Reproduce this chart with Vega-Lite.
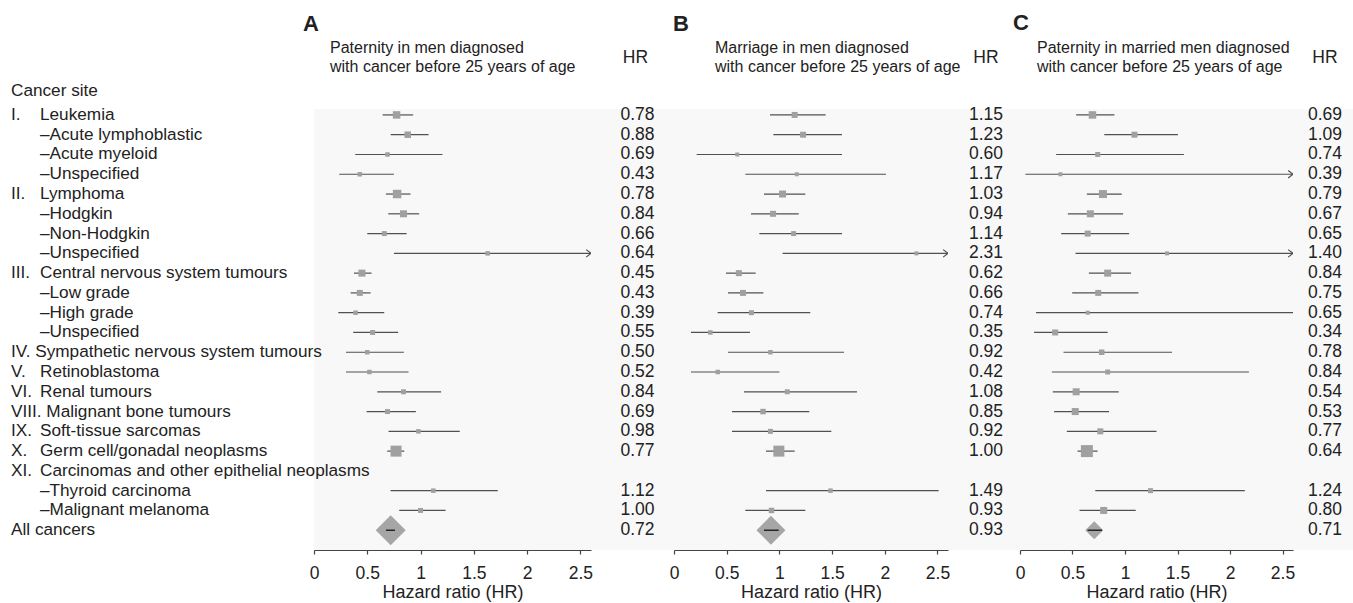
{
  "$schema": "https://vega.github.io/schema/vega-lite/v6.json",
  "padding": {"left": 11, "top": 11, "right": 0, "bottom": 0},
  "bounds": "flush",
  "spacing": 0,
  "config": {
    "font": "Liberation Sans",
    "view": {"stroke": null},
    "text": {"font": "Liberation Sans", "fontSize": 17.2, "color": "#222222"},
    "axis": {
      "domainColor": "#444444", "domainWidth": 1.2, "tickColor": "#444444", "tickWidth": 1.2, "tickSize": 4,
      "labelFont": "Liberation Sans", "labelFontSize": 17.5, "labelColor": "#222222", "labelPadding": 10,
      "labelFlush": false, "labelOverlap": false,
      "titleFont": "Liberation Sans", "titleFontSize": 18, "titleFontWeight": "normal", "titleColor": "#222222", "titlePadding": 2,
      "grid": false
    }
  },
  "datasets": {
    "labels": [
      {"row": 1, "num": "I.", "name": "Leukemia"},
      {"row": 2, "num": "", "name": "–Acute lymphoblastic"},
      {"row": 3, "num": "", "name": "–Acute myeloid"},
      {"row": 4, "num": "", "name": "–Unspecified"},
      {"row": 5, "num": "II.", "name": "Lymphoma"},
      {"row": 6, "num": "", "name": "–Hodgkin"},
      {"row": 7, "num": "", "name": "–Non-Hodgkin"},
      {"row": 8, "num": "", "name": "–Unspecified"},
      {"row": 9, "num": "III.", "name": "Central nervous system tumours"},
      {"row": 10, "num": "", "name": "–Low grade"},
      {"row": 11, "num": "", "name": "–High grade"},
      {"row": 12, "num": "", "name": "–Unspecified"},
      {"row": 13, "num": "IV. Sympathetic nervous system tumours", "name": ""},
      {"row": 14, "num": "V.", "name": "Retinoblastoma"},
      {"row": 15, "num": "VI.", "name": "Renal tumours"},
      {"row": 16, "num": "VIII. Malignant bone tumours", "name": ""},
      {"row": 17, "num": "IX.", "name": "Soft-tissue sarcomas"},
      {"row": 18, "num": "X.", "name": "Germ cell/gonadal neoplasms"},
      {"row": 19, "num": "XI.", "name": "Carcinomas and other epithelial neoplasms"},
      {"row": 20, "num": "", "name": "–Thyroid carcinoma"},
      {"row": 21, "num": "", "name": "–Malignant melanoma"},
      {"row": 22, "num": "All cancers", "name": ""}
    ],
    "A": [
      {"row": 1, "kind": "site", "est": 0.775, "lo": 0.644, "hi": 0.931, "hr": 0.78, "weight": 7.5},
      {"row": 2, "kind": "site", "est": 0.88, "lo": 0.72, "hi": 1.075, "hr": 0.88, "weight": 6.5},
      {"row": 3, "kind": "site", "est": 0.69, "lo": 0.387, "hi": 1.206, "hr": 0.69, "weight": 4.5},
      {"row": 4, "kind": "site", "est": 0.43, "lo": 0.237, "hi": 0.75, "hr": 0.43, "weight": 4.5},
      {"row": 5, "kind": "site", "est": 0.78, "lo": 0.675, "hi": 0.906, "hr": 0.78, "weight": 8.5},
      {"row": 6, "kind": "site", "est": 0.84, "lo": 0.697, "hi": 0.987, "hr": 0.84, "weight": 7},
      {"row": 7, "kind": "site", "est": 0.66, "lo": 0.5, "hi": 0.869, "hr": 0.66, "weight": 5},
      {"row": 8, "kind": "site", "est": 1.63, "lo": 0.75, "hi": 3.5, "hr": 0.64, "weight": 4.5},
      {"row": 9, "kind": "site", "est": 0.45, "lo": 0.375, "hi": 0.54, "hr": 0.45, "weight": 7},
      {"row": 10, "kind": "site", "est": 0.43, "lo": 0.344, "hi": 0.531, "hr": 0.43, "weight": 6},
      {"row": 11, "kind": "site", "est": 0.39, "lo": 0.228, "hi": 0.659, "hr": 0.39, "weight": 4.5},
      {"row": 12, "kind": "site", "est": 0.55, "lo": 0.368, "hi": 0.79, "hr": 0.55, "weight": 5},
      {"row": 13, "kind": "site", "est": 0.5, "lo": 0.3, "hi": 0.843, "hr": 0.5, "weight": 4.5},
      {"row": 14, "kind": "site", "est": 0.52, "lo": 0.3, "hi": 0.887, "hr": 0.52, "weight": 4.5},
      {"row": 15, "kind": "site", "est": 0.84, "lo": 0.594, "hi": 1.193, "hr": 0.84, "weight": 5},
      {"row": 16, "kind": "site", "est": 0.69, "lo": 0.494, "hi": 0.956, "hr": 0.69, "weight": 5},
      {"row": 17, "kind": "site", "est": 0.98, "lo": 0.7, "hi": 1.368, "hr": 0.98, "weight": 4.5},
      {"row": 18, "kind": "site", "est": 0.77, "lo": 0.687, "hi": 0.847, "hr": 0.77, "weight": 11},
      {"row": 20, "kind": "site", "est": 1.12, "lo": 0.719, "hi": 1.725, "hr": 1.12, "weight": 4.5},
      {"row": 21, "kind": "site", "est": 1.0, "lo": 0.8, "hi": 1.235, "hr": 1.0, "weight": 5},
      {"row": 22, "kind": "all", "est": 0.72, "lo": 0.675, "hi": 0.76, "hr": 0.72, "weight": 30}
    ],
    "B": [
      {"row": 1, "kind": "site", "est": 1.145, "lo": 0.911, "hi": 1.439, "hr": 1.15, "weight": 6},
      {"row": 2, "kind": "site", "est": 1.225, "lo": 0.942, "hi": 1.594, "hr": 1.23, "weight": 6},
      {"row": 3, "kind": "site", "est": 0.6, "lo": 0.215, "hi": 1.594, "hr": 0.6, "weight": 4},
      {"row": 4, "kind": "site", "est": 1.165, "lo": 0.677, "hi": 2.011, "hr": 1.17, "weight": 4},
      {"row": 5, "kind": "site", "est": 1.03, "lo": 0.854, "hi": 1.246, "hr": 1.03, "weight": 7},
      {"row": 6, "kind": "site", "est": 0.94, "lo": 0.731, "hi": 1.183, "hr": 0.94, "weight": 6},
      {"row": 7, "kind": "site", "est": 1.135, "lo": 0.81, "hi": 1.594, "hr": 1.14, "weight": 5},
      {"row": 8, "kind": "site", "est": 2.3, "lo": 1.031, "hi": 3.5, "hr": 2.31, "weight": 4},
      {"row": 9, "kind": "site", "est": 0.615, "lo": 0.493, "hi": 0.775, "hr": 0.62, "weight": 6},
      {"row": 10, "kind": "site", "est": 0.655, "lo": 0.512, "hi": 0.848, "hr": 0.66, "weight": 6},
      {"row": 11, "kind": "site", "est": 0.735, "lo": 0.414, "hi": 1.293, "hr": 0.74, "weight": 5},
      {"row": 12, "kind": "site", "est": 0.345, "lo": 0.161, "hi": 0.721, "hr": 0.35, "weight": 4.5},
      {"row": 13, "kind": "site", "est": 0.915, "lo": 0.512, "hi": 1.613, "hr": 0.92, "weight": 4.5},
      {"row": 14, "kind": "site", "est": 0.415, "lo": 0.161, "hi": 1.0, "hr": 0.42, "weight": 4.5},
      {"row": 15, "kind": "site", "est": 1.075, "lo": 0.664, "hi": 1.736, "hr": 1.08, "weight": 5},
      {"row": 16, "kind": "site", "est": 0.845, "lo": 0.55, "hi": 1.284, "hr": 0.85, "weight": 5.5},
      {"row": 17, "kind": "site", "est": 0.915, "lo": 0.55, "hi": 1.493, "hr": 0.92, "weight": 5},
      {"row": 18, "kind": "site", "est": 0.995, "lo": 0.873, "hi": 1.145, "hr": 1.0, "weight": 11},
      {"row": 20, "kind": "site", "est": 1.485, "lo": 0.873, "hi": 2.511, "hr": 1.49, "weight": 4.5},
      {"row": 21, "kind": "site", "est": 0.925, "lo": 0.677, "hi": 1.246, "hr": 0.93, "weight": 5.5},
      {"row": 22, "kind": "all", "est": 0.92, "lo": 0.854, "hi": 0.993, "hr": 0.93, "weight": 29}
    ],
    "C": [
      {"row": 1, "kind": "site", "est": 0.69, "lo": 0.535, "hi": 0.899, "hr": 0.69, "weight": 7.5},
      {"row": 2, "kind": "site", "est": 1.09, "lo": 0.803, "hi": 1.504, "hr": 1.09, "weight": 6},
      {"row": 3, "kind": "site", "est": 0.74, "lo": 0.344, "hi": 1.561, "hr": 0.74, "weight": 5},
      {"row": 4, "kind": "site", "est": 0.385, "lo": 0.051, "hi": 3.5, "hr": 0.39, "weight": 4},
      {"row": 5, "kind": "site", "est": 0.79, "lo": 0.637, "hi": 0.969, "hr": 0.79, "weight": 8},
      {"row": 6, "kind": "site", "est": 0.67, "lo": 0.456, "hi": 0.982, "hr": 0.67, "weight": 7},
      {"row": 7, "kind": "site", "est": 0.645, "lo": 0.392, "hi": 1.039, "hr": 0.65, "weight": 6},
      {"row": 8, "kind": "site", "est": 1.4, "lo": 0.529, "hi": 3.5, "hr": 1.4, "weight": 4},
      {"row": 9, "kind": "site", "est": 0.835, "lo": 0.656, "hi": 1.058, "hr": 0.84, "weight": 7},
      {"row": 10, "kind": "site", "est": 0.745, "lo": 0.497, "hi": 1.128, "hr": 0.75, "weight": 6},
      {"row": 11, "kind": "site", "est": 0.645, "lo": 0.153, "hi": 2.6, "hr": 0.65, "weight": 4},
      {"row": 12, "kind": "site", "est": 0.335, "lo": 0.134, "hi": 0.835, "hr": 0.34, "weight": 6},
      {"row": 13, "kind": "site", "est": 0.778, "lo": 0.414, "hi": 1.447, "hr": 0.78, "weight": 5.5},
      {"row": 14, "kind": "site", "est": 0.835, "lo": 0.303, "hi": 2.18, "hr": 0.84, "weight": 5},
      {"row": 15, "kind": "site", "est": 0.535, "lo": 0.312, "hi": 0.94, "hr": 0.54, "weight": 7},
      {"row": 16, "kind": "site", "est": 0.526, "lo": 0.325, "hi": 0.848, "hr": 0.53, "weight": 7},
      {"row": 17, "kind": "site", "est": 0.765, "lo": 0.446, "hi": 1.3, "hr": 0.77, "weight": 6},
      {"row": 18, "kind": "site", "est": 0.637, "lo": 0.548, "hi": 0.739, "hr": 0.64, "weight": 12},
      {"row": 20, "kind": "site", "est": 1.243, "lo": 0.717, "hi": 2.141, "hr": 1.24, "weight": 5},
      {"row": 21, "kind": "site", "est": 0.797, "lo": 0.567, "hi": 1.102, "hr": 0.8, "weight": 7},
      {"row": 22, "kind": "all", "est": 0.707, "lo": 0.644, "hi": 0.781, "hr": 0.71, "weight": 18}
    ]
  },
  "resolve": {"scale": {"x": "independent", "y": "independent", "size": "independent"}},
  "hconcat": [
    {
      "width": 277, "height": 441,
      "view": {"fill": "#f8f8f8", "stroke": null},
      "resolve": {"scale": {"x": "independent"}},
      "layer": [
        {
          "data": {"name": "A"},
          "encoding": {"y": {"field": "row", "type": "quantitative", "scale": {"domain": [0.7, 23], "reverse": true, "nice": false, "zero": false}, "axis": null}},
          "layer": [
            {
              "transform": [{"filter": "datum.kind == 'site'"}],
              "mark": {"type": "rule", "clip": true, "color": "#505050", "strokeWidth": 1.2},
              "encoding": {
                "x": {"field": "lo", "type": "quantitative", "scale": {"domain": [0, 2.6], "nice": false, "zero": false},
                      "axis": {"values": [0, 0.5, 1, 1.5, 2, 2.5], "format": "~g", "title": "Hazard ratio (HR)"}},
                "x2": {"field": "hi"}
              }
            },
            {
              "transform": [{"filter": "datum.kind == 'site'"}],
              "mark": {"type": "point", "shape": "square", "filled": true, "color": "#a0a0a0", "opacity": 1},
              "encoding": {
                "x": {"field": "est", "type": "quantitative"},
                "size": {"field": "weight", "type": "quantitative", "scale": {"type": "pow", "exponent": 2, "domain": [0, 30], "range": [0, 900]}, "legend": null}
              }
            },
            {
              "transform": [{"filter": "datum.hi > 2.6"}],
              "mark": {"type": "point", "shape": "M-1.3,-1L0,0L-1.3,1", "filled": false, "color": "#505050", "strokeWidth": 1.2, "size": 56, "opacity": 1},
              "encoding": {"x": {"datum": 2.6, "type": "quantitative"}}
            },
            {
              "transform": [{"filter": "datum.kind == 'all'"}],
              "mark": {"type": "point", "shape": "diamond", "filled": true, "color": "#a6a6a6", "opacity": 1},
              "encoding": {
                "x": {"field": "est", "type": "quantitative"},
                "size": {"field": "weight", "type": "quantitative", "legend": null}
              }
            },
            {
              "transform": [{"filter": "datum.kind == 'all'"}],
              "mark": {"type": "rule", "color": "#111111", "strokeWidth": 1.3},
              "encoding": {"x": {"field": "lo", "type": "quantitative"}, "x2": {"field": "hi"}}
            },
            {
              "data": {"values": [{}]},
              "mark": {"type": "rule", "color": "#444444", "strokeWidth": 1.3},
              "encoding": {"x": {"datum": 1, "type": "quantitative"}, "y": {"datum": 0.97, "type": "quantitative"}, "y2": {"datum": 23}}
            }
          ]
        },
        {
          "layer": [
            {
              "data": {"name": "labels"},
              "transform": [{"fold": ["num", "name"], "as": ["col", "txt"]}, {"filter": "datum.txt != ''"}],
              "mark": {"type": "text", "align": "left", "baseline": "middle"},
              "encoding": {
                "x": {"field": "col", "type": "nominal", "scale": {"type": "point", "domain": ["num", "name"], "range": [-303, -274], "padding": 0}, "axis": null},
                "y": {"field": "row", "type": "quantitative", "scale": {"domain": [0.7, 23], "reverse": true, "nice": false, "zero": false}, "axis": null},
                "text": {"field": "txt", "type": "nominal"}
              }
            },
            {
              "data": {"values": [{"t": "Cancer site"}]},
              "mark": {"type": "text", "align": "left", "baseline": "middle"},
              "encoding": {
                "x": {"datum": "num", "type": "nominal"},
                "y": {"datum": -0.2, "type": "quantitative"},
                "text": {"field": "t", "type": "nominal"}
              }
            }
          ]
        },
        {
          "layer": [
            {
              "data": {"values": [{"t": "A"}]},
              "mark": {"type": "text", "fontSize": 22, "fontWeight": "bold", "align": "left", "baseline": "middle", "dx": -149.5},
              "encoding": {
                "y": {"datum": -3.62, "type": "quantitative", "scale": {"domain": [0.7, 23], "reverse": true, "nice": false, "zero": false}},
                "text": {"field": "t"}
              }
            },
            {
              "data": {"values": [{"t": ["Paternity in men diagnosed", "with cancer before 25 years of age"]}]},
              "mark": {"type": "text", "fontSize": 16, "lineHeight": 18.5, "align": "left", "baseline": "middle", "dx": -122.5},
              "encoding": {
                "y": {"datum": -2.38, "type": "quantitative"},
                "text": {"field": "t"}
              }
            }
          ]
        }
      ]
    },
    {
      "width": 83, "height": 441,
      "view": {"fill": "#f8f8f8", "stroke": null},
      "data": {"name": "A"},
      "layer": [
        {
          "mark": {"type": "text", "baseline": "middle", "align": "center", "dx": 5, "fontSize": 17.5},
          "encoding": {
            "y": {"field": "row", "type": "quantitative", "scale": {"domain": [0.7, 23], "reverse": true, "nice": false, "zero": false}, "axis": null},
            "text": {"field": "hr", "type": "quantitative", "format": ".2f"}
          }
        },
        {
          "data": {"values": [{}]},
          "mark": {"type": "text", "text": "HR", "baseline": "middle", "align": "center", "dx": 3, "fontSize": 17.5},
          "encoding": {"y": {"datum": -1.87, "type": "quantitative"}}
        }
      ]
    },
    {
      "width": 274, "height": 441,
      "view": {"fill": "#f8f8f8", "stroke": null},
      "layer": [
        {
          "data": {"name": "B"},
          "encoding": {"y": {"field": "row", "type": "quantitative", "scale": {"domain": [0.7, 23], "reverse": true, "nice": false, "zero": false}, "axis": null}},
          "layer": [
            {
              "transform": [{"filter": "datum.kind == 'site'"}],
              "mark": {"type": "rule", "clip": true, "color": "#505050", "strokeWidth": 1.2},
              "encoding": {
                "x": {"field": "lo", "type": "quantitative", "scale": {"domain": [0, 2.6], "nice": false, "zero": false},
                      "axis": {"values": [0, 0.5, 1, 1.5, 2, 2.5], "format": "~g", "title": "Hazard ratio (HR)"}},
                "x2": {"field": "hi"}
              }
            },
            {
              "transform": [{"filter": "datum.kind == 'site'"}],
              "mark": {"type": "point", "shape": "square", "filled": true, "color": "#a0a0a0", "opacity": 1},
              "encoding": {
                "x": {"field": "est", "type": "quantitative"},
                "size": {"field": "weight", "type": "quantitative", "scale": {"type": "pow", "exponent": 2, "domain": [0, 30], "range": [0, 900]}, "legend": null}
              }
            },
            {
              "transform": [{"filter": "datum.hi > 2.6"}],
              "mark": {"type": "point", "shape": "M-1.3,-1L0,0L-1.3,1", "filled": false, "color": "#505050", "strokeWidth": 1.2, "size": 56, "opacity": 1},
              "encoding": {"x": {"datum": 2.6, "type": "quantitative"}}
            },
            {
              "transform": [{"filter": "datum.kind == 'all'"}],
              "mark": {"type": "point", "shape": "diamond", "filled": true, "color": "#a6a6a6", "opacity": 1},
              "encoding": {
                "x": {"field": "est", "type": "quantitative"},
                "size": {"field": "weight", "type": "quantitative", "legend": null}
              }
            },
            {
              "transform": [{"filter": "datum.kind == 'all'"}],
              "mark": {"type": "rule", "color": "#111111", "strokeWidth": 1.3},
              "encoding": {"x": {"field": "lo", "type": "quantitative"}, "x2": {"field": "hi"}}
            },
            {
              "data": {"values": [{}]},
              "mark": {"type": "rule", "color": "#444444", "strokeWidth": 1.3},
              "encoding": {"x": {"datum": 1, "type": "quantitative"}, "y": {"datum": 0.97, "type": "quantitative"}, "y2": {"datum": 23}}
            }
          ]
        },
        {
          "layer": [
            {
              "data": {"values": [{"t": "B"}]},
              "mark": {"type": "text", "fontSize": 22, "fontWeight": "bold", "align": "left", "baseline": "middle", "dx": -138},
              "encoding": {
                "y": {"datum": -3.62, "type": "quantitative", "scale": {"domain": [0.7, 23], "reverse": true, "nice": false, "zero": false}},
                "text": {"field": "t"}
              }
            },
            {
              "data": {"values": [{"t": ["Marriage in men diagnosed", "with cancer before 25 years of age"]}]},
              "mark": {"type": "text", "fontSize": 16, "lineHeight": 18.5, "align": "left", "baseline": "middle", "dx": -96},
              "encoding": {
                "y": {"datum": -2.38, "type": "quantitative"},
                "text": {"field": "t"}
              }
            }
          ]
        }
      ]
    },
    {
      "width": 72, "height": 441,
      "view": {"fill": "#f8f8f8", "stroke": null},
      "data": {"name": "B"},
      "layer": [
        {
          "mark": {"type": "text", "baseline": "middle", "align": "center", "dx": 2, "fontSize": 17.5},
          "encoding": {
            "y": {"field": "row", "type": "quantitative", "scale": {"domain": [0.7, 23], "reverse": true, "nice": false, "zero": false}, "axis": null},
            "text": {"field": "hr", "type": "quantitative", "format": ".2f"}
          }
        },
        {
          "data": {"values": [{}]},
          "mark": {"type": "text", "text": "HR", "baseline": "middle", "align": "center", "dx": 2, "fontSize": 17.5},
          "encoding": {"y": {"datum": -1.87, "type": "quantitative"}}
        }
      ]
    },
    {
      "width": 273, "height": 441,
      "view": {"fill": "#f8f8f8", "stroke": null},
      "layer": [
        {
          "data": {"name": "C"},
          "encoding": {"y": {"field": "row", "type": "quantitative", "scale": {"domain": [0.7, 23], "reverse": true, "nice": false, "zero": false}, "axis": null}},
          "layer": [
            {
              "transform": [{"filter": "datum.kind == 'site'"}],
              "mark": {"type": "rule", "clip": true, "color": "#505050", "strokeWidth": 1.2},
              "encoding": {
                "x": {"field": "lo", "type": "quantitative", "scale": {"domain": [0, 2.6], "nice": false, "zero": false},
                      "axis": {"values": [0, 0.5, 1, 1.5, 2, 2.5], "format": "~g", "title": "Hazard ratio (HR)"}},
                "x2": {"field": "hi"}
              }
            },
            {
              "transform": [{"filter": "datum.kind == 'site'"}],
              "mark": {"type": "point", "shape": "square", "filled": true, "color": "#a0a0a0", "opacity": 1},
              "encoding": {
                "x": {"field": "est", "type": "quantitative"},
                "size": {"field": "weight", "type": "quantitative", "scale": {"type": "pow", "exponent": 2, "domain": [0, 30], "range": [0, 900]}, "legend": null}
              }
            },
            {
              "transform": [{"filter": "datum.hi > 2.6"}],
              "mark": {"type": "point", "shape": "M-1.3,-1L0,0L-1.3,1", "filled": false, "color": "#505050", "strokeWidth": 1.2, "size": 56, "opacity": 1},
              "encoding": {"x": {"datum": 2.6, "type": "quantitative"}}
            },
            {
              "transform": [{"filter": "datum.kind == 'all'"}],
              "mark": {"type": "point", "shape": "diamond", "filled": true, "color": "#a6a6a6", "opacity": 1},
              "encoding": {
                "x": {"field": "est", "type": "quantitative"},
                "size": {"field": "weight", "type": "quantitative", "legend": null}
              }
            },
            {
              "transform": [{"filter": "datum.kind == 'all'"}],
              "mark": {"type": "rule", "color": "#111111", "strokeWidth": 1.3},
              "encoding": {"x": {"field": "lo", "type": "quantitative"}, "x2": {"field": "hi"}}
            },
            {
              "data": {"values": [{}]},
              "mark": {"type": "rule", "color": "#444444", "strokeWidth": 1.3},
              "encoding": {"x": {"datum": 1, "type": "quantitative"}, "y": {"datum": 0.97, "type": "quantitative"}, "y2": {"datum": 23}}
            }
          ]
        },
        {
          "layer": [
            {
              "data": {"values": [{"t": "C"}]},
              "mark": {"type": "text", "fontSize": 22, "fontWeight": "bold", "align": "left", "baseline": "middle", "dx": -143.5},
              "encoding": {
                "y": {"datum": -3.65, "type": "quantitative", "scale": {"domain": [0.7, 23], "reverse": true, "nice": false, "zero": false}},
                "text": {"field": "t"}
              }
            },
            {
              "data": {"values": [{"t": ["Paternity in married men diagnosed", "with cancer before 25 years of age"]}]},
              "mark": {"type": "text", "fontSize": 16, "lineHeight": 18.5, "align": "left", "baseline": "middle", "dx": -119.5},
              "encoding": {
                "y": {"datum": -2.38, "type": "quantitative"},
                "text": {"field": "t"}
              }
            }
          ]
        }
      ]
    },
    {
      "width": 60, "height": 441,
      "view": {"fill": "#f8f8f8", "stroke": null},
      "data": {"name": "C"},
      "layer": [
        {
          "mark": {"type": "text", "baseline": "middle", "align": "center", "dx": 2, "fontSize": 17.5},
          "encoding": {
            "y": {"field": "row", "type": "quantitative", "scale": {"domain": [0.7, 23], "reverse": true, "nice": false, "zero": false}, "axis": null},
            "text": {"field": "hr", "type": "quantitative", "format": ".2f"}
          }
        },
        {
          "data": {"values": [{}]},
          "mark": {"type": "text", "text": "HR", "baseline": "middle", "align": "center", "dx": 2, "fontSize": 17.5},
          "encoding": {"y": {"datum": -1.87, "type": "quantitative"}}
        }
      ]
    }
  ]
}
